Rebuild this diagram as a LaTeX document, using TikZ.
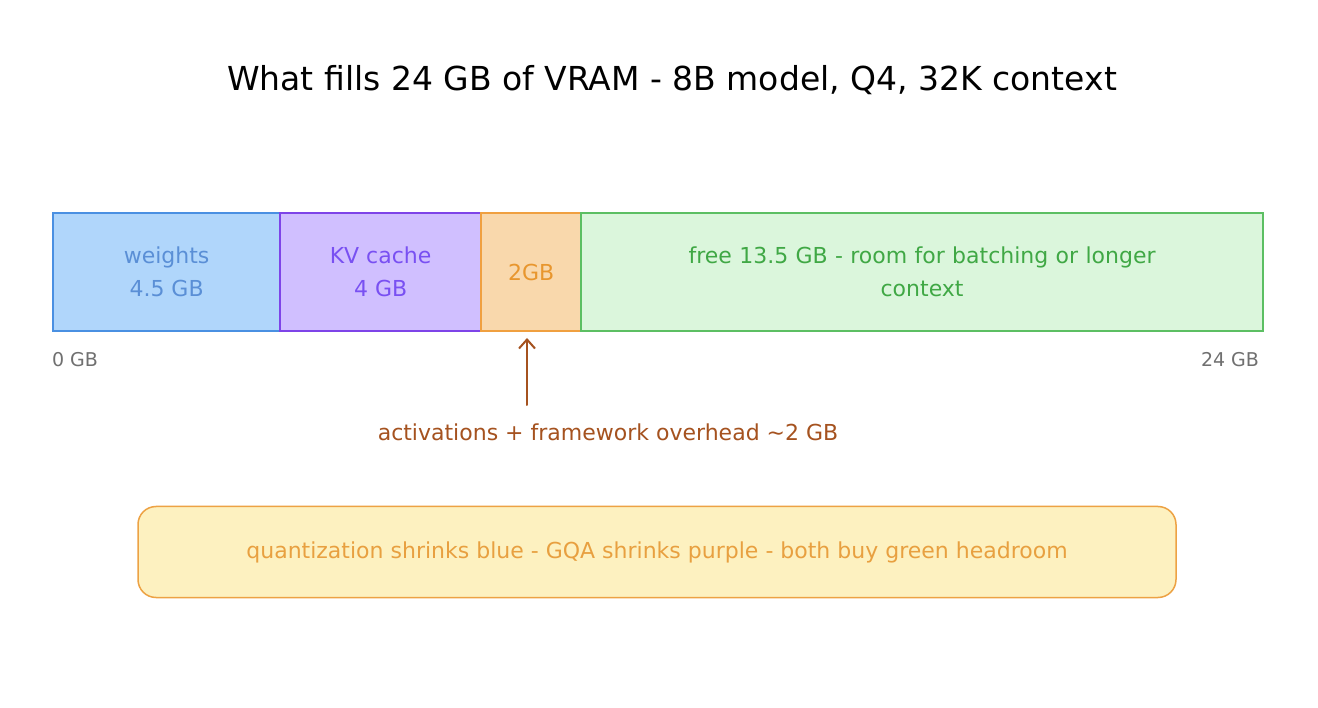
\documentclass[tikz,border=0pt]{standalone}
\usetikzlibrary{arrows.meta}
\usepackage{fontspec}
\setmainfont{DejaVu Sans}
\definecolor{bfill}{HTML}{B0D6FB}\definecolor{bline}{HTML}{4A90E2}\definecolor{btext}{HTML}{5A8FD6}
\definecolor{pfill}{HTML}{D0BFFF}\definecolor{pline}{HTML}{7E44E8}\definecolor{ptext}{HTML}{7950F2}
\definecolor{ofill}{HTML}{F9D8AC}\definecolor{oline}{HTML}{F0A040}\definecolor{otext}{HTML}{E8962E}
\definecolor{gfill}{HTML}{DBF6DC}\definecolor{gline}{HTML}{5CBF63}\definecolor{gtext}{HTML}{40A845}
\definecolor{brown}{HTML}{A5521F}\definecolor{nfill}{HTML}{FDF1C0}\definecolor{nline}{HTML}{EDA244}
\definecolor{ntext}{HTML}{E8A040}\definecolor{gray1}{HTML}{707070}
\begin{document}
\begin{tikzpicture}[x=1pt,y=-1pt,
  seg/.style={draw=#1line,fill=#1fill,line width=2.2pt,minimum height=118pt,inner sep=0pt,anchor=north west,text=#1text,font=\fontsize{22}{33}\selectfont,align=center},
  axis/.style={text=gray1,font=\fontsize{19}{22}\selectfont}]
\useasboundingbox[fill=white] (0,0) rectangle (1318,708);
\node[font=\fontsize{33}{38}\selectfont] (title) at (672,80) {What fills 24 GB of VRAM - 8B model, Q4, 32K context};
\node[seg=b,minimum width=227pt] (w) at (52,212) {weights\\4.5 GB};
\node[seg=p,minimum width=201pt] (kv) at (279,212) {KV cache\\4 GB};
\node[seg=o,minimum width=100pt] (act) at (480,212) {2GB};
\node[seg=g,minimum width=682pt,text width=640pt] (free) at (580,212) {free 13.5 GB - room for batching or longer\\context};
\node[axis] (l0) at (75,360) {0 GB};
\node[axis] (l24) at (1230,360) {24 GB};
\node[text=brown,font=\fontsize{22}{26}\selectfont] (actl) at (608,432) {activations + framework overhead \textasciitilde2 GB};
\coordinate (as) at (527,405);
\coordinate (ae) at (527,338);
\draw[brown,line width=2pt,line cap=round,-{Straight Barb[length=9pt,width=16pt]}] (as) -- (ae);
\node[draw=nline,fill=nfill,line width=1.5pt,rounded corners=18pt,minimum width=1038pt,minimum height=91pt,text=ntext,font=\fontsize{22}{26}\selectfont] (note) at (657,552) {quantization shrinks blue - GQA shrinks purple - both buy green headroom};
\end{tikzpicture}
\end{document}
